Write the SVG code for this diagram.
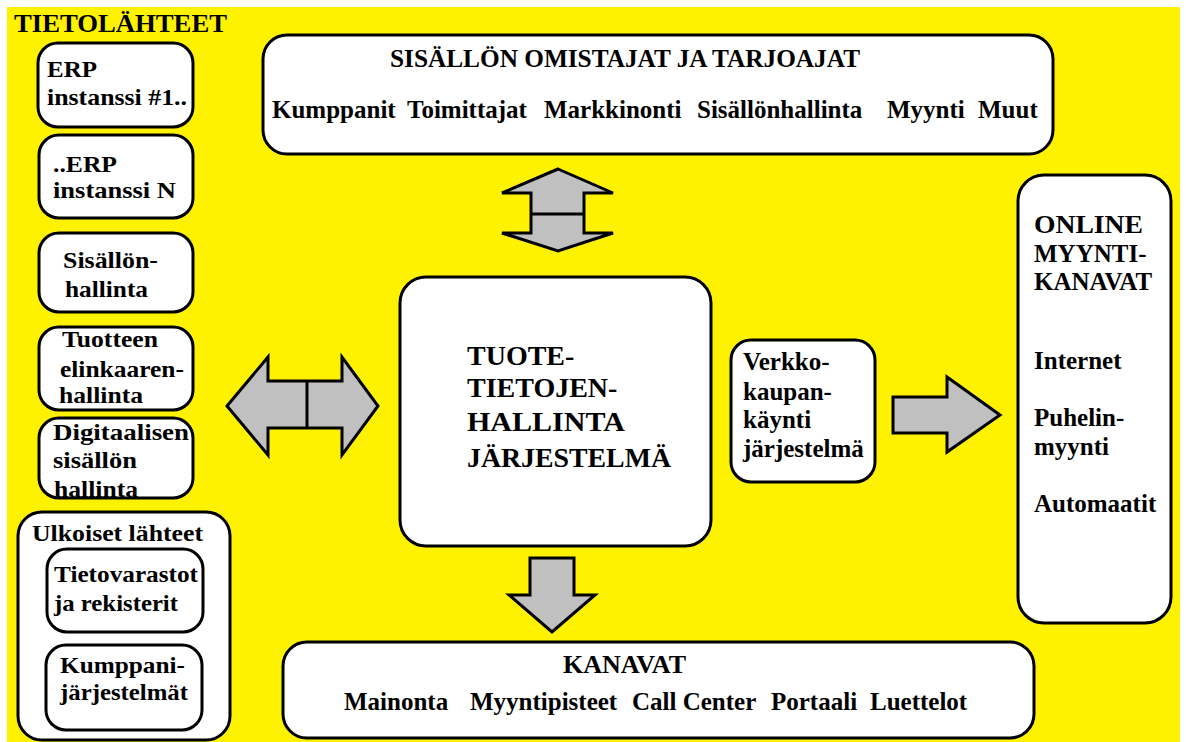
<svg xmlns="http://www.w3.org/2000/svg" width="1186" height="742" viewBox="0 0 1186 742" font-family="'Liberation Serif', 'DejaVu Serif', serif">
  <style>
    .box { fill: #ffffff; stroke: #000000; stroke-width: 3; }
    .arrow { fill: #c0c0c0; stroke: #000000; stroke-width: 3; stroke-linejoin: miter; }
    .bar { fill: none; stroke: #000000; stroke-width: 3; }
    .t { font-family: 'Liberation Serif', 'DejaVu Serif', serif; fill: #000000; font-weight: bold; }
    .s26 { font-size: 26px; }
    .s25 { font-size: 25px; }
    .s23 { font-size: 23px; }
    .main { font-size: 28px; }
  </style>

  <!-- background -->
  <rect x="0" y="0" width="1186" height="742" fill="#ffffff"/>
  <rect x="7" y="7" width="1173" height="735" fill="#fff200"/>

  <text id="title" class="t s26" x="14" y="32" textLength="213" lengthAdjust="spacingAndGlyphs">TIETOLÄHTEET</text>

  <!-- source systems -->
  <g id="erp1">
    <rect class="box" x="38" y="43" width="155" height="84" rx="20"/>
    <text class="t s23" x="47" y="77" textLength="50" lengthAdjust="spacingAndGlyphs">ERP</text>
    <text class="t s23" x="47" y="105" textLength="140" lengthAdjust="spacingAndGlyphs">instanssi #1..</text>
  </g>
  <g id="erpN">
    <rect class="box" x="39" y="135" width="154" height="83" rx="20"/>
    <text class="t s23" x="53" y="172" textLength="64" lengthAdjust="spacingAndGlyphs">..ERP</text>
    <text class="t s23" x="53" y="198" textLength="123" lengthAdjust="spacingAndGlyphs">instanssi N</text>
  </g>
  <g id="sisallonhallinta">
    <rect class="box" x="39" y="233" width="154" height="79" rx="20"/>
    <text class="t s23" x="63" y="268" textLength="95" lengthAdjust="spacingAndGlyphs">Sisällön-</text>
    <text class="t s23" x="65" y="297" textLength="83" lengthAdjust="spacingAndGlyphs">hallinta</text>
  </g>
  <g id="elinkaari">
    <rect class="box" x="39" y="327" width="154" height="83" rx="20"/>
    <text class="t s23" x="62" y="347" textLength="96" lengthAdjust="spacingAndGlyphs">Tuotteen</text>
    <text class="t s23" x="60" y="377" textLength="124" lengthAdjust="spacingAndGlyphs">elinkaaren-</text>
    <text class="t s23" x="59" y="403" textLength="84" lengthAdjust="spacingAndGlyphs">hallinta</text>
  </g>
  <g id="digitaalinen">
    <rect class="box" x="39" y="418" width="154" height="80" rx="20"/>
    <text class="t s23" x="53" y="440" textLength="136" lengthAdjust="spacingAndGlyphs">Digitaalisen</text>
    <text class="t s23" x="53" y="468" textLength="84" lengthAdjust="spacingAndGlyphs">sisällön</text>
    <text class="t s23" x="54" y="497" textLength="84" lengthAdjust="spacingAndGlyphs">hallinta</text>
  </g>

  <!-- external sources -->
  <g id="ulkoiset">
    <rect class="box" x="18" y="512" width="212" height="228" rx="24"/>
    <text class="t s23" x="32" y="541" textLength="171" lengthAdjust="spacingAndGlyphs">Ulkoiset lähteet</text>
  </g>
  <g id="tietovarastot">
    <rect class="box" x="47" y="549" width="156" height="83" rx="20"/>
    <text class="t s23" x="54" y="582" textLength="144" lengthAdjust="spacingAndGlyphs">Tietovarastot</text>
    <text class="t s23" x="54" y="611" textLength="124" lengthAdjust="spacingAndGlyphs">ja rekisterit</text>
  </g>
  <g id="kumppanijarjestelmat">
    <rect class="box" x="46" y="645" width="156" height="85" rx="20"/>
    <text class="t s23" x="60" y="673" textLength="125" lengthAdjust="spacingAndGlyphs">Kumppani-</text>
    <text class="t s23" x="60" y="700" textLength="128" lengthAdjust="spacingAndGlyphs">järjestelmät</text>
  </g>

  <!-- content owners -->
  <g id="omistajat">
    <rect class="box" x="263" y="35" width="790" height="119" rx="24"/>
    <text class="t s25" x="390" y="67" textLength="470" lengthAdjust="spacingAndGlyphs">SISÄLLÖN OMISTAJAT JA TARJOAJAT</text>
    <text class="t s25" x="272" y="118">Kumppanit</text>
    <text class="t s25" x="407" y="118">Toimittajat</text>
    <text class="t s25" x="544" y="118">Markkinonti</text>
    <text class="t s25" x="697" y="118">Sisällönhallinta</text>
    <text class="t s25" x="887" y="118">Myynti</text>
    <text class="t s25" x="978" y="118">Muut</text>
  </g>

  <!-- PIM core -->
  <g id="pim">
    <rect class="box" x="400" y="277" width="311" height="269" rx="26"/>
    <text class="t main" x="467" y="365">TUOTE-</text>
    <text class="t main" x="467" y="397">TIETOJEN-</text>
    <text class="t main" x="467" y="431" textLength="158" lengthAdjust="spacingAndGlyphs">HALLINTA</text>
    <text class="t main" x="467" y="467" textLength="204" lengthAdjust="spacingAndGlyphs">JÄRJESTELMÄ</text>
  </g>

  <!-- e-commerce -->
  <g id="verkkokauppa">
    <rect class="box" x="731" y="340" width="144" height="142" rx="20"/>
    <text class="t s25" x="743" y="370">Verkko-</text>
    <text class="t s25" x="743" y="400">kaupan-</text>
    <text class="t s25" x="743" y="428">käynti</text>
    <text class="t s25" x="743" y="457">järjestelmä</text>
  </g>

  <!-- online sales channels -->
  <g id="online">
    <rect class="box" x="1018" y="175" width="153" height="448" rx="26"/>
    <text class="t s25" x="1034" y="233" textLength="109" lengthAdjust="spacingAndGlyphs">ONLINE</text>
    <text class="t s25" x="1034" y="262">MYYNTI-</text>
    <text class="t s25" x="1034" y="290">KANAVAT</text>
    <text class="t s25" x="1034" y="369">Internet</text>
    <text class="t s25" x="1034" y="426">Puhelin-</text>
    <text class="t s25" x="1034" y="455">myynti</text>
    <text class="t s25" x="1034" y="512">Automaatit</text>
  </g>

  <!-- channels -->
  <g id="kanavat">
    <rect class="box" x="283" y="642" width="751" height="96" rx="24"/>
    <text class="t s25" x="563" y="673" textLength="123" lengthAdjust="spacingAndGlyphs">KANAVAT</text>
    <text class="t s25" x="344" y="710">Mainonta</text>
    <text class="t s25" x="470" y="710">Myyntipisteet</text>
    <text class="t s25" x="632" y="710">Call Center</text>
    <text class="t s25" x="771" y="710">Portaali</text>
    <text class="t s25" x="870" y="710">Luettelot</text>
  </g>

  <!-- block arrows -->
  <g id="connectors">
    <!-- owners <-> PIM -->
    <polygon class="arrow" points="558,169 613,193 584,193 584,233 613,233 558,251 502,233 531,233 531,193 502,193"/>
    <line class="bar" x1="531" y1="214" x2="584" y2="214"/>
    <!-- sources <-> PIM -->
    <polygon class="arrow" points="227,406 268,357 268,381 342,381 342,357 378,406 342,455 342,428 268,428 268,455"/>
    <line class="bar" x1="307" y1="381" x2="307" y2="428"/>
    <!-- e-commerce -> online channels -->
    <polygon class="arrow" points="893,397 947,397 947,377 1000,415 947,452 947,433 893,433"/>
    <!-- PIM -> channels -->
    <polygon class="arrow" points="530,558 574,558 574,595 595,595 552,632 509,595 530,595"/>
  </g>
</svg>
